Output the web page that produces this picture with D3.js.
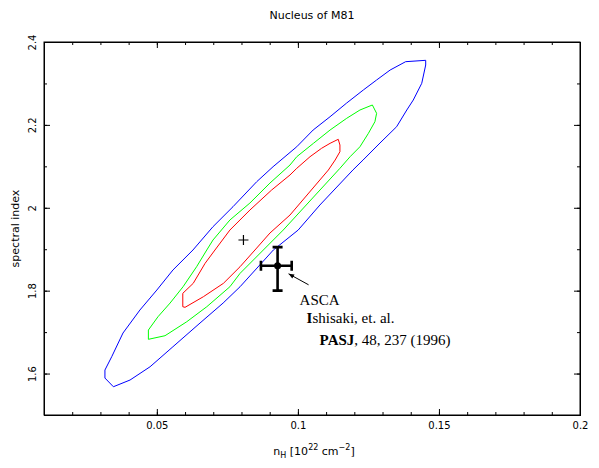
<!DOCTYPE html>
<html>
<head>
<meta charset="utf-8">
<script src="https://cdn.jsdelivr.net/npm/d3@7"></script>
<style>
  body { margin: 0; background: #fff; }
  svg { display: block; }
  .lbl { font-family: "DejaVu Sans", sans-serif; font-size: 10px; fill: #000; }
  .big { font-size: 11px; }
  .note { font-family: "Liberation Serif", "Times New Roman", serif; font-size: 15px; fill: #000; }
</style>
</head>
<body>
<script>
'use strict';

// axis ranges and tick labels
const xDomain = [0.01, 0.2];
const yDomain = [1.5, 2.4];
const xTicks = [0.05, 0.1, 0.15, 0.2];
const yTicks = [1.6, 1.8, 2, 2.2, 2.4];

// confidence contours (nH, spectral index)
const blueContour = [
  [0.1382, 2.3525], [0.1453, 2.3558], [0.1453, 2.3445], [0.1439, 2.3003], [0.1409, 2.2600],
  [0.1386, 2.2359], [0.1350, 2.1956], [0.1291, 2.1563], [0.1231, 2.1152], [0.1195, 2.0911],
  [0.1078, 2.0067], [0.1001, 1.9463], [0.0913, 1.8981], [0.0795, 1.8095], [0.0735, 1.7702],
  [0.0653, 1.7219], [0.0557, 1.6647], [0.0476, 1.6164], [0.0405, 1.5844], [0.0346, 1.5682],
  [0.0316, 1.5892], [0.0316, 1.6085], [0.0340, 1.6406], [0.0380, 1.6978], [0.0440, 1.7533],
  [0.0500, 1.8015], [0.0557, 1.8498], [0.0628, 1.8981], [0.0699, 1.9543], [0.0770, 2.0026],
  [0.0854, 2.0629], [0.0912, 2.0991], [0.0996, 2.1473], [0.1054, 2.1876], [0.1114, 2.2197],
  [0.1173, 2.2528], [0.1232, 2.2842], [0.1279, 2.3083], [0.1327, 2.3324]
];
const greenContour = [
  [0.1264, 2.2480], [0.1279, 2.2279], [0.1273, 2.2077], [0.1250, 2.1797], [0.1220, 2.1473],
  [0.1185, 2.1232], [0.1149, 2.0952], [0.0948, 1.9463], [0.0895, 1.9101], [0.0795, 1.8418],
  [0.0759, 1.8095], [0.0677, 1.7612], [0.0606, 1.7250], [0.0529, 1.6913], [0.0470, 1.6826],
  [0.0470, 1.7050], [0.0504, 1.7371], [0.0547, 1.7702], [0.0593, 1.8095], [0.0641, 1.8578],
  [0.0677, 1.8981], [0.0699, 1.9222], [0.0759, 1.9705], [0.0830, 2.0115], [0.0901, 2.0597],
  [0.0972, 2.1032], [0.0996, 2.1232], [0.1055, 2.1555], [0.1114, 2.1876], [0.1173, 2.2159],
  [0.1220, 2.2359]
];
const redContour = [
  [0.1143, 2.1652], [0.1149, 2.1514], [0.1149, 2.1353], [0.1132, 2.1152], [0.1108, 2.0911],
  [0.0972, 1.9825], [0.0901, 1.9391], [0.0854, 1.9029], [0.0795, 1.8578], [0.0736, 1.8177],
  [0.0665, 1.7854], [0.0600, 1.7598], [0.0592, 1.7612], [0.0592, 1.7936], [0.0629, 1.8177],
  [0.0671, 1.8660], [0.0706, 1.8981], [0.0759, 1.9463], [0.0830, 1.9946], [0.0907, 2.0429],
  [0.0972, 2.0791], [0.0996, 2.0952], [0.1043, 2.1232], [0.1084, 2.1435], [0.1114, 2.1555]
];
const contourColors = ["#0000ff", "#00ff00", "#ff0000"];

// best fit and ASCA measurement
const bestFit = [0.0807, 1.9222];
const ascaPoint = { x: 0.0928, y: 1.860, xLo: 0.0869, xHi: 0.0978, yLo: 1.800, yHi: 1.905 };

const margin = { left: 44, right: 580, top: 42, bottom: 415 };

let svg = d3.select("body").append("svg")
  .attr("width", 599)
  .attr("height", 468);

let x = d3.scaleLinear().domain(xDomain).range([margin.left, margin.right]);
let y = d3.scaleLinear().domain(yDomain).range([margin.bottom, margin.top]);

drawAxes();
plotContours();
plotPoints();
makeLabels();

function drawAxes() {
  let minorX = x.ticks(19);
  let minorY = y.ticks(9);

  // bottom, with labels
  let bottom = svg.append("g")
    .attr("transform", `translate(0,${margin.bottom})`)
    .call(d3.axisBottom(x).tickValues(xTicks).tickSizeInner(-6).tickSizeOuter(0).tickPadding(14)
      .tickFormat(d3.format("")));
  svg.append("g")
    .attr("transform", `translate(0,${margin.bottom})`)
    .call(d3.axisBottom(x).tickValues(minorX).tickSize(-3).tickFormat(""));

  // top, no labels
  svg.append("g")
    .attr("transform", `translate(0,${margin.top})`)
    .call(d3.axisTop(x).tickValues(xTicks).tickSizeInner(-6).tickSizeOuter(0).tickFormat(""));
  svg.append("g")
    .attr("transform", `translate(0,${margin.top})`)
    .call(d3.axisTop(x).tickValues(minorX).tickSize(-3).tickFormat(""));

  // left, rotated labels
  let left = svg.append("g")
    .attr("transform", `translate(${margin.left},0)`)
    .call(d3.axisLeft(y).tickValues(yTicks).tickSizeInner(-6).tickSizeOuter(0)
      .tickFormat(d3.format("")));
  svg.append("g")
    .attr("transform", `translate(${margin.left},0)`)
    .call(d3.axisLeft(y).tickValues(minorY).tickSize(-3).tickFormat(""));

  // right, no labels
  svg.append("g")
    .attr("transform", `translate(${margin.right},0)`)
    .call(d3.axisRight(y).tickValues(yTicks).tickSizeInner(-6).tickSizeOuter(0).tickFormat(""));
  svg.append("g")
    .attr("transform", `translate(${margin.right},0)`)
    .call(d3.axisRight(y).tickValues(minorY).tickSize(-3).tickFormat(""));

  svg.selectAll(".domain").attr("stroke", "#000").attr("stroke-width", 1);
  svg.selectAll(".tick line").attr("stroke", "#000");
  svg.selectAll(".tick text").attr("class", "lbl").attr("font-family", null).attr("font-size", null);

  bottom.selectAll(".tick text").attr("dy", null).attr("y", 14);

  left.selectAll(".tick text")
    .attr("x", null)
    .attr("dy", "0.35em")
    .attr("text-anchor", "middle")
    .attr("transform", "translate(-12,0) rotate(-90)");

  svg.append("rect")
    .attr("x", margin.left)
    .attr("y", margin.top)
    .attr("width", margin.right - margin.left)
    .attr("height", margin.bottom - margin.top)
    .attr("fill", "none")
    .attr("stroke", "#000");
}

function plotContours() {
  let line = d3.line()
    .x(d => x(d[0]))
    .y(d => y(d[1]))
    .curve(d3.curveLinearClosed);

  svg.selectAll(".contour")
    .data([blueContour, greenContour, redContour])
    .enter()
    .append("path")
    .attr("class", "contour")
    .attr("d", line)
    .attr("fill", "none")
    .attr("stroke", (d, i) => contourColors[i])
    .attr("stroke-width", 1);
}

function plotPoints() {
  // best fit cross
  let bx = x(bestFit[0]), by = y(bestFit[1]);
  svg.append("path")
    .attr("d", `M${bx - 5},${by}H${bx + 5}M${bx},${by - 5}V${by + 5}`)
    .attr("stroke", "#000")
    .attr("stroke-width", 1.2);

  // ASCA point with error bars
  let p = ascaPoint;
  let cx = x(p.x), cy = y(p.y);
  let g = svg.append("g").attr("stroke", "#000").attr("stroke-width", 2.6);
  g.append("path")
    .attr("d", `M${x(p.xLo)},${cy}H${x(p.xHi)}` +
      `M${x(p.xLo)},${cy - 5}V${cy + 5}M${x(p.xHi)},${cy - 5}V${cy + 5}` +
      `M${cx},${y(p.yHi)}V${y(p.yLo)}` +
      `M${cx - 5},${y(p.yHi)}H${cx + 5}M${cx - 5},${y(p.yLo)}H${cx + 5}`)
    .attr("fill", "none");
  svg.append("circle")
    .attr("cx", cx)
    .attr("cy", cy)
    .attr("r", 3.5)
    .attr("fill", "#000");

  // arrow from the note to the point
  let ax0 = cx + 31, ay0 = cy + 19;
  let ax1 = cx + 11, ay1 = cy + 8;
  svg.append("line")
    .attr("x1", ax0).attr("y1", ay0)
    .attr("x2", ax1).attr("y2", ay1)
    .attr("stroke", "#000")
    .attr("stroke-width", 1);
  let ang = Math.atan2(ay0 - ay1, ax0 - ax1);
  let hl = 6, hw = 0.4;
  svg.append("path")
    .attr("d", `M${ax1},${ay1}` +
      `L${ax1 + hl * Math.cos(ang + hw)},${ay1 + hl * Math.sin(ang + hw)}` +
      `L${ax1 + hl * Math.cos(ang - hw)},${ay1 + hl * Math.sin(ang - hw)}Z`)
    .attr("fill", "#000");

  svg.append("text")
    .attr("class", "note")
    .attr("x", cx + 22)
    .attr("y", cy + 39)
    .text("ASCA");

  let t2 = svg.append("text")
    .attr("class", "note")
    .attr("x", cx + 29)
    .attr("y", cy + 57.5);
  t2.append("tspan").attr("font-weight", "bold").text("I");
  t2.append("tspan").text("shisaki, et. al.");

  let t3 = svg.append("text")
    .attr("class", "note")
    .attr("x", cx + 42)
    .attr("y", cy + 79.5);
  t3.append("tspan").attr("font-weight", "bold").text("PASJ");
  t3.append("tspan").text(", 48, 237 (1996)");
}

function makeLabels() {
  let midX = (margin.left + margin.right) / 2;
  let midY = (margin.top + margin.bottom) / 2;

  svg.append("text")
    .attr("class", "lbl big")
    .attr("x", midX)
    .attr("y", 19)
    .attr("text-anchor", "middle")
    .text("Nucleus of M81");

  svg.append("text")
    .attr("class", "lbl big")
    .attr("text-anchor", "middle")
    .attr("transform", `translate(19,${midY}) rotate(-90)`)
    .text("spectral index");

  let xl = svg.append("text")
    .attr("class", "lbl big")
    .attr("x", midX + 2)
    .attr("y", 455)
    .attr("text-anchor", "middle");
  xl.append("tspan").text("n");
  xl.append("tspan").attr("font-size", "8px").attr("dy", 3).text("H");
  xl.append("tspan").attr("dy", -3).text(" [10");
  xl.append("tspan").attr("font-size", "8px").attr("dy", -5).text("22");
  xl.append("tspan").attr("dy", 5).text(" cm");
  xl.append("tspan").attr("font-size", "8px").attr("dy", -5).text("\u22122");
  xl.append("tspan").attr("dy", 5).text("]");
}
</script>
</body>
</html>
